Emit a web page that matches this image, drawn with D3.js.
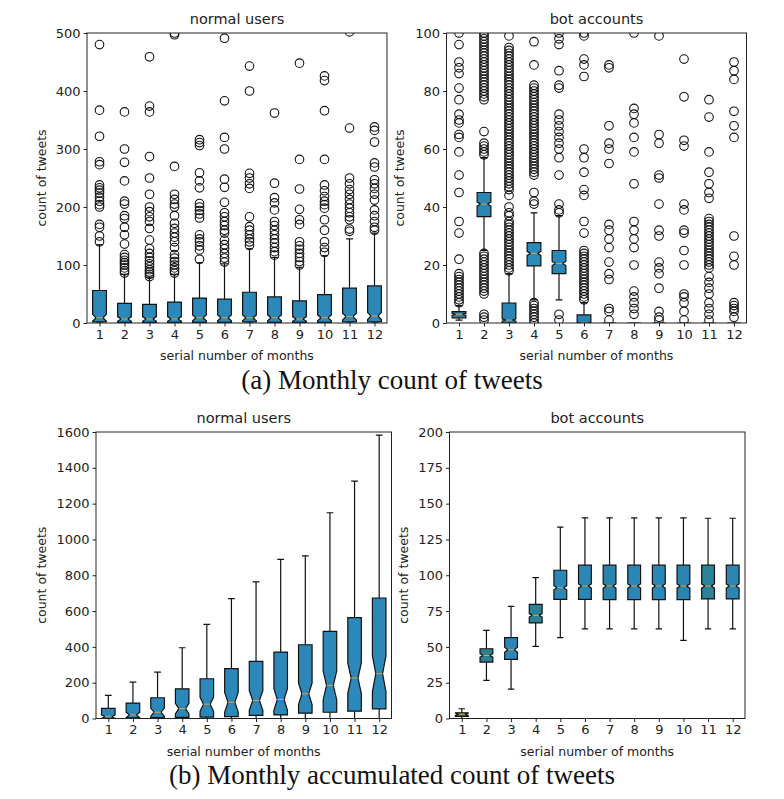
<!DOCTYPE html>
<html lang="en">
<head>
  <meta charset="UTF-8">
  <title>Monthly count of tweets</title>
  <script src="https://d3js.org/d3.v7.min.js"></script>
  <style>
    body { margin: 0; background: #fff; }
    svg { display: block; }
    .tick text { font-family: "DejaVu Sans", sans-serif; font-size: 13px; fill: #222; }
    .tick line { stroke: #222; }
    .frame { fill: none; stroke: #222; stroke-width: 1; }
    .label { font-family: "DejaVu Sans", sans-serif; font-size: 12.5px; fill: #222; text-anchor: middle; }
    .title { font-family: "DejaVu Sans", sans-serif; font-size: 14.5px; fill: #222; text-anchor: middle; }
    .caption { font-family: "Liberation Serif", serif; font-size: 27px; fill: #111; text-anchor: middle; }
    .box { stroke: #111; stroke-width: 1.2; }
    .whisker { stroke: #111; stroke-width: 1.2; }
    .median { stroke: #d9a34a; stroke-width: 1; }
    .flier { fill: none; stroke: #111; stroke-width: 1.1; }
  </style>
</head>
<body>
  <svg id="chart" width="784" height="799"></svg>

  <script>
    const months = [1, 2, 3, 4, 5, 6, 7, 8, 9, 10, 11, 12];

    // (a) monthly count, normal users
    const normalMonthlyTicks = [0, 100, 200, 300, 400, 500];
    const normalMonthlyQ1 = [2, 1, 1, 1, 1, 1, 2, 1, 1, 1, 2, 2];
    const normalMonthlyMed = [9, 7, 7, 7, 9, 9, 9, 9, 7, 9, 11, 12];
    const normalMonthlyQ3 = [56, 34, 32, 36, 43, 41, 53, 45, 38, 49, 60, 64];
    const normalMonthlyLow = [0, 0, 0, 0, 0, 0, 0, 0, 0, 0, 0, 0];
    const normalMonthlyHigh = [135, 84, 79, 84, 104, 102, 128, 113, 96, 116, 145, 155];
    const normalMonthlyNotch = [6, 4, 4, 4, 5, 5, 5, 5, 4, 5, 6, 6];
    const normalMonthlyFliers = [
      [480, 367, 322, 278, 273, 238, 233, 229, 224, 217, 210, 204, 200, 170, 165, 150, 140],
      [364, 300, 277, 245, 210, 205, 185, 180, 165, 152, 136, 118, 113, 108, 104, 100, 95, 90, 86],
      [459, 374, 364, 287, 250, 222, 200, 192, 183, 175, 163, 143, 128, 120, 113, 107, 102, 97, 92, 88, 84, 80],
      [497, 500, 270, 222, 213, 205, 200, 185, 172, 163, 155, 148, 140, 130, 118, 112, 106, 100, 95, 90, 86],
      [316, 311, 306, 259, 245, 233, 206, 200, 194, 188, 181, 152, 145, 140, 133, 126, 110],
      [491, 383, 320, 300, 248, 234, 208, 190, 183, 175, 168, 160, 155, 143, 135, 128, 120, 112, 105],
      [443, 400, 258, 250, 240, 232, 183, 166, 160, 152, 145, 140, 134],
      [362, 241, 216, 207, 195, 175, 168, 160, 152, 145, 138, 130, 123, 117],
      [448, 282, 231, 196, 178, 170, 140, 133, 127, 120, 113, 106, 100],
      [426, 418, 366, 282, 238, 228, 218, 210, 204, 198, 178, 160, 140, 130, 122],
      [502, 336, 250, 240, 230, 222, 213, 205, 198, 190, 183, 178, 162, 158],
      [338, 332, 312, 276, 269, 247, 240, 232, 222, 212, 195, 185, 175, 165, 160]
    ];

    // (a) monthly count, bot accounts
    const botMonthlyTicks = [0, 20, 40, 60, 80, 100];
    const botMonthlyQ1 = [1.8, 36.7, 0, 19.7, 17, 0, 0, 0, 0, 0, 0, 0];
    const botMonthlyMed = [3, 41, 1, 24, 20.5, 0, 0, 0, 0, 0, 0, 0];
    const botMonthlyQ3 = [3.9, 45, 6.9, 27.7, 25, 2.8, 0, 0, 0, 0, 0, 0];
    const botMonthlyLow = [1, 25, 0, 8, 8, 0, 0, 0, 0, 0, 0, 0];
    const botMonthlyHigh = [6, 57, 17, 38, 37, 7, 0, 0, 0, 0, 0, 0];
    const botMonthlyNotch = [0.3, 0.7, 0.4, 0.7, 0.7, 0.2, 0, 0, 0, 0, 0, 0];
    const botMonthlyFliers = [
      [100, 96, 90, 88, 86, 81, 77, 72, 70, 69, 65, 64, 59, 51, 45, 35, 31, 22, 17, 16, 15, 14, 13, 12, 11, 10, 9, 8, 7],
      [100, 99, 98, 97, 96, 95, 94, 93, 92, 91, 90, 89, 88, 87, 86, 85, 84, 83, 82, 81, 80, 79, 78, 77, 66, 62, 61, 60, 59, 58,
       24, 23, 22, 21, 20, 19, 18, 17, 16, 15, 14, 13, 12, 11, 10, 3, 2, 1],
      [99, 95, 94, 93, 92, 91, 90, 89, 88, 87, 86, 85, 84, 83, 82, 81, 80, 79, 78, 77, 76, 75, 74, 73, 72, 71, 70, 69, 68, 67,
       66, 65, 64, 63, 62, 61, 60, 59, 58, 57, 56, 55, 54, 53, 52, 51, 50, 49, 48, 47, 46, 44, 40, 38, 37, 35, 34, 33, 32, 31,
       30, 29, 28, 27, 26, 25, 24, 23, 22, 21, 20, 19, 18],
      [97, 89, 82, 81, 80, 79, 78, 77, 76, 75, 74, 73, 72, 71, 70, 69, 68, 67, 66, 65, 64, 63, 62, 61, 60, 59, 58, 57, 56, 55,
       54, 53, 52, 51, 45, 42, 41, 7, 6, 5, 4, 3, 2, 1, 0],
      [100, 98, 96, 87, 82, 81, 72, 70, 68, 66, 64, 62, 60, 57, 51, 41, 39, 38, 3, 1],
      [100, 99, 91, 89, 85, 60, 57, 52, 46, 44, 35, 31, 25, 24, 23, 22, 21, 20, 19, 18, 17, 16, 15, 14, 13, 12, 11, 10, 9, 8],
      [89, 88, 68, 62, 60, 55, 34, 32, 29, 26, 21, 17, 15, 5, 4, 1],
      [100, 74, 72, 69, 64, 59, 48, 35, 32, 29, 26, 20, 11, 9, 7, 5, 3],
      [99, 65, 62, 51, 50, 41, 32, 30, 21, 19, 17, 12, 4, 2, 1],
      [91, 78, 63, 61, 41, 39, 32, 31, 25, 20, 10, 9, 7, 4, 1],
      [77, 71, 59, 52, 48, 45, 43, 36, 35, 34, 33, 32, 31, 30, 29, 28, 27, 26, 25, 24, 23, 22, 21, 20, 19, 16, 14, 12, 10, 7, 5, 3, 1],
      [90, 87, 84, 73, 68, 64, 30, 23, 20, 7, 6, 5, 4, 2]
    ];

    // (b) accumulated count, normal users
    const normalAccTicks = [0, 200, 400, 600, 800, 1000, 1200, 1400, 1600];
    const normalAccQ1 = [1, 3, 5, 6, 8, 11, 17, 20, 30, 35, 41, 54];
    const normalAccMed = [10, 20, 35, 55, 80, 91, 101, 106, 138, 185, 226, 250];
    const normalAccQ3 = [56, 86, 116, 166, 222, 278, 319, 371, 412, 487, 563, 673];
    const normalAccLow = [0, 0, 0, 0, 0, 0, 0, 0, 0, 0, 0, 0];
    const normalAccHigh = [129, 203, 259, 395, 526, 670, 763, 889, 908, 1149, 1326, 1583];
    const normalAccNotch = [10, 15, 22, 30, 40, 55, 55, 60, 60, 80, 85, 100];

    // (b) accumulated count, bot accounts
    const botAccTicks = [0, 25, 50, 75, 100, 125, 150, 175, 200];
    const botAccQ1 = [1.5, 39.4, 41.3, 66.7, 83.2, 83.2, 83, 83, 83, 83, 83.5, 83.5];
    const botAccMed = [3, 44, 48, 72, 91.3, 92.5, 92.5, 92.5, 92.5, 92.5, 92.5, 92.5];
    const botAccQ3 = [4, 48.7, 56.4, 79.7, 103.5, 107, 107, 107, 107, 107, 107, 107];
    const botAccLow = [0, 26.6, 20.5, 50.3, 56.4, 62.5, 62.5, 62.5, 62.5, 54.5, 62.5, 62.5];
    const botAccHigh = [6.8, 61.5, 78.3, 98.4, 133.6, 140, 140, 140, 140, 140, 139.8, 139.8];
    const botAccNotch = [0.8, 1.2, 1.8, 1.2, 1.5, 1.5, 1.5, 1.5, 1.5, 1.5, 1.5, 1.5];

    const svg = d3.select("#chart");
    svg.append("rect").attr("width", 784).attr("height", 799).attr("fill", "#fff");

    function stats(q1, med, q3, low, high, notch, fliers) {
      return months.map((m, i) => ({
        m, q1: q1[i], med: med[i], q3: q3[i], low: low[i], high: high[i],
        cilo: med[i] - notch[i], cihi: med[i] + notch[i],
        fliers: fliers ? fliers[i] : []
      }));
    }

    function panel(o) {
      const g = svg.append("g");
      const x = d3.scaleLinear().domain([0.5, 12.5]).range(o.xr);
      const y = d3.scaleLinear().domain(o.yd).range(o.yr);
      const clipId = "clip" + o.id;

      g.append("clipPath").attr("id", clipId)
        .append("rect")
        .attr("x", o.xr[0]).attr("y", o.yr[1])
        .attr("width", o.xr[1] - o.xr[0]).attr("height", o.yr[0] - o.yr[1]);

      const plot = g.append("g").attr("clip-path", `url(#${clipId})`);
      const bw = o.bw;

      o.data.forEach((d, i) => {
        const cx = x(d.m);
        const half = (x(bw / 2) - x(0));
        const nh = half / 2;
        const cap = half / 2;

        // whiskers
        plot.append("line").attr("class", "whisker")
          .attr("x1", cx).attr("x2", cx).attr("y1", y(d.q1)).attr("y2", y(d.low));
        plot.append("line").attr("class", "whisker")
          .attr("x1", cx).attr("x2", cx).attr("y1", y(d.q3)).attr("y2", y(d.high));
        plot.append("line").attr("class", "whisker")
          .attr("x1", cx - cap).attr("x2", cx + cap).attr("y1", y(d.low)).attr("y2", y(d.low));
        plot.append("line").attr("class", "whisker")
          .attr("x1", cx - cap).attr("x2", cx + cap).attr("y1", y(d.high)).attr("y2", y(d.high));

        // notched box
        const pts = [
          [cx - half, d.q1], [cx + half, d.q1], [cx + half, d.cilo], [cx + nh, d.med],
          [cx + half, d.cihi], [cx + half, d.q3], [cx - half, d.q3], [cx - half, d.cihi],
          [cx - nh, d.med], [cx - half, d.cilo], [cx - half, d.q1]
        ];
        plot.append("path").attr("class", "box")
          .attr("fill", o.fill[i % o.fill.length])
          .attr("d", d3.line().x(p => p[0]).y(p => y(p[1]))(pts) + "Z");

        plot.append("line").attr("class", "median")
          .attr("x1", cx - nh).attr("x2", cx + nh).attr("y1", y(d.med)).attr("y2", y(d.med));

        plot.selectAll(null).data(d.fliers).enter().append("circle")
          .attr("class", "flier")
          .attr("cx", cx).attr("cy", v => y(v)).attr("r", 4.3);
      });

      g.append("rect").attr("class", "frame")
        .attr("x", o.xr[0]).attr("y", o.yr[1])
        .attr("width", o.xr[1] - o.xr[0]).attr("height", o.yr[0] - o.yr[1]);

      const ax = g.append("g").attr("transform", `translate(0,${o.yr[0]})`)
        .call(d3.axisBottom(x).tickValues(months).tickSize(3.5).tickPadding(3));
      ax.select(".domain").remove();
      const ay = g.append("g").attr("transform", `translate(${o.xr[0]},0)`)
        .call(d3.axisLeft(y).tickValues(o.ticks).tickFormat(d => String(d)).tickSize(3.5).tickPadding(3));
      ay.select(".domain").remove();

      const mid = (o.xr[0] + o.xr[1]) / 2;
      g.append("text").attr("class", "title")
        .attr("x", mid).attr("y", o.yr[1] - 9).text(o.title);
      g.append("text").attr("class", "label")
        .attr("x", mid).attr("y", o.yr[0] + 37).text("serial number of months");
      g.append("text").attr("class", "label")
        .attr("transform", `translate(${o.ylx},${(o.yr[0] + o.yr[1]) / 2}) rotate(-90)`)
        .attr("dy", "0.35em").text("count of tweets");
    }

    const blue = ["#2b88b8"];

    panel({ id: 1, xr: [87, 387], yd: [0, 500], yr: [323, 33], ticks: normalMonthlyTicks, bw: 0.55,
      title: "normal users", ylx: 42, fill: blue,
      data: stats(normalMonthlyQ1, normalMonthlyMed, normalMonthlyQ3, normalMonthlyLow, normalMonthlyHigh, normalMonthlyNotch, normalMonthlyFliers) });

    panel({ id: 2, xr: [446.5, 746.5], yd: [0, 100], yr: [323, 33], ticks: botMonthlyTicks, bw: 0.55,
      title: "bot accounts", ylx: 400, fill: ["#3a7e99", "#2a86b2", "#2a84b4", "#2a8ab8", "#2a86b4", "#2a84b0"],
      data: stats(botMonthlyQ1, botMonthlyMed, botMonthlyQ3, botMonthlyLow, botMonthlyHigh, botMonthlyNotch, botMonthlyFliers) });

    panel({ id: 3, xr: [96, 391.5], yd: [0, 1600], yr: [718.5, 432], ticks: normalAccTicks, bw: 0.55,
      title: "normal users", ylx: 42, fill: blue,
      data: stats(normalAccQ1, normalAccMed, normalAccQ3, normalAccLow, normalAccHigh, normalAccNotch, null) });

    panel({ id: 4, xr: [449.5, 745], yd: [0, 200], yr: [718.5, 432], ticks: botAccTicks, bw: 0.52,
      title: "bot accounts", ylx: 404,
      fill: ["#5a7050", "#2d7f92", "#2b86b6", "#2d8296", "#2a88b8", "#2a88b8", "#2b84ae", "#2a86b4", "#2a88b8", "#2b84b0", "#2c8298", "#2b86b2"],
      data: stats(botAccQ1, botAccMed, botAccQ3, botAccLow, botAccHigh, botAccNotch, null) });

    svg.append("text").attr("class", "caption").attr("x", 392).attr("y", 389)
      .text("(a) Monthly count of tweets");
    svg.append("text").attr("class", "caption").attr("x", 392).attr("y", 784)
      .text("(b) Monthly accumulated count of tweets");
  </script>
</body>
</html>
